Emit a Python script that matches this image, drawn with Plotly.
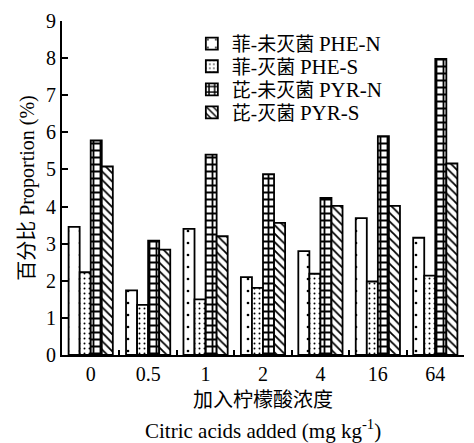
import plotly.graph_objects as go

categories = ["0", "0.5", "1", "2", "4", "16", "64"]
phe_n = [3.45, 1.74, 3.40, 2.10, 2.80, 3.69, 3.16]
phe_s = [2.23, 1.35, 1.50, 1.81, 2.19, 1.98, 2.14]
pyr_n = [5.78, 3.08, 5.40, 4.87, 4.23, 5.90, 7.98]
pyr_s = [5.08, 2.84, 3.20, 3.56, 4.02, 4.02, 5.16]

cn_names = ["菲-未灭菌", "菲-灭菌", "芘-未灭菌", "芘-灭菌"]
en_names = ["PHE-N", "PHE-S", "PYR-N", "PYR-S"]
series = [phe_n, phe_s, pyr_n, pyr_s]
patterns = [
    dict(shape=".", size=12, solidity=0.04, fgcolor="black", bgcolor="white", fillmode="replace"),
    dict(shape=".", size=5, solidity=0.12, fgcolor="black", bgcolor="white", fillmode="replace"),
    dict(shape="+", size=7, solidity=0.45, fgcolor="black", bgcolor="white", fillmode="replace"),
    dict(shape="\\", size=6, solidity=0.3, fgcolor="black", bgcolor="white", fillmode="replace"),
]

FONT = "Liberation Serif, Times New Roman, Noto Sans CJK SC, serif"
legend_ids = ["legend", "legend2", "legend3", "legend4"]
legend_y = [0.932, 0.864, 0.795, 0.726]

fig = go.Figure()
for cn, en, vals, pat, lid in zip(cn_names, en_names, series, patterns, legend_ids):
    fig.add_trace(go.Bar(
        x=categories, y=vals,
        name=f'{cn} <span style="font-size:21px">{en}</span>',
        legend=lid,
        marker=dict(color="white", line=dict(color="black", width=1.8), pattern=pat),
    ))

layout_legends = {}
for lid, ly in zip(legend_ids, legend_y):
    layout_legends[lid] = dict(x=0.323, y=ly, xanchor="left", yanchor="middle",
                               bgcolor="rgba(0,0,0,0)", font=dict(size=19, family=FONT),
                               itemwidth=30, borderwidth=0)

fig.update_layout(
    width=474, height=443,
    margin=dict(l=62, r=10, t=15, b=88),
    paper_bgcolor="white", plot_bgcolor="white",
    barmode="group", bargap=0.23, bargroupgap=0,
    font=dict(family=FONT, size=19, color="black"),
    showlegend=True,
    xaxis=dict(type="category", showline=True, linecolor="black", linewidth=2,
               ticks="inside", ticklen=5, tickwidth=1.5, tickcolor="black",
               tickson="boundaries", tickfont=dict(size=20, family=FONT),
               showgrid=False, zeroline=False),
    yaxis=dict(range=[0, 9], dtick=1, showline=True, linecolor="black", linewidth=2,
               ticks="inside", ticklen=6, tickwidth=1.5, tickcolor="black",
               tickfont=dict(size=20, family=FONT), showgrid=False, zeroline=False,
               title=dict(text="百分比 Proportion (%)", font=dict(size=20, family=FONT), standoff=6)),
    annotations=[
        dict(text="加入柠檬酸浓度", xref="paper", yref="paper", x=0.5, y=-0.135,
             xanchor="center", yanchor="middle", showarrow=False,
             font=dict(size=20, family=FONT)),
        dict(text="Citric acids added (mg kg<sup>-1</sup>)", xref="paper", yref="paper",
             x=0.5, y=-0.222, xanchor="center", yanchor="middle", showarrow=False,
             font=dict(size=21, family=FONT)),
    ],
    **layout_legends,
)

fig.write_html("out.html")
